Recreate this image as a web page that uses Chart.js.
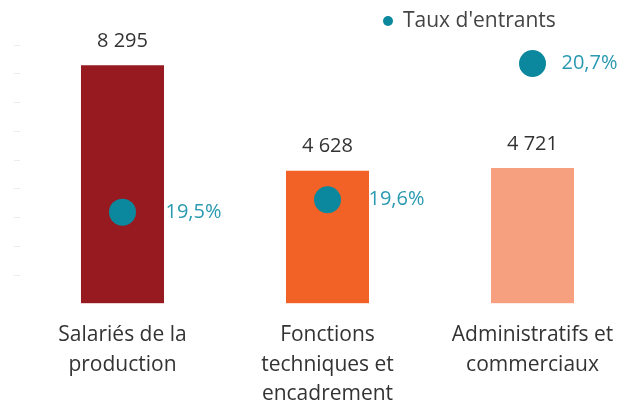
<!DOCTYPE html>
<html lang="fr">
<head>
<meta charset="utf-8">
<script src="https://cdn.jsdelivr.net/npm/chart.js@4/dist/chart.umd.min.js"></script>
<style>
  body { margin: 0; background: #fff; }
  #wrap { width: 636px; height: 402px; position: relative; }
</style>
</head>
<body>
<div id="wrap"><canvas id="entrants"></canvas></div>

<script>
    const categories = [
        ["Salariés de la", "production"],
        ["Fonctions", "techniques et", "encadrement"],
        ["Administratifs et", "commerciaux"]
    ];
    const effectifs = [8295, 4628, 4721];
    const tauxEntrants = [19.5, 19.6, 20.7];
    const barColors = ["#961a1f", "#f26125", "#f7a07f"];

    const fmtNombre = v => String(v).replace(/\B(?=(\d{3})+(?!\d))/g, " ");
    const fmtTaux = v => v.toFixed(1).replace(".", ",") + "%";

    // value labels above the bars and to the right of the dots, plus the legend
    const annotations = {
        id: "annotations",
        afterDatasetsDraw(chart, args, opts) {
            const ctx = chart.ctx;
            ctx.save();
            ctx.textBaseline = "middle";

            ctx.font = "20px 'Open Sans'";
            ctx.fillStyle = "#333";
            ctx.textAlign = "center";
            chart.getDatasetMeta(0).data.forEach((bar, i) => {
                ctx.fillText(fmtNombre(effectifs[i]), bar.x, bar.y - 24);
            });

            ctx.fillStyle = "#2a9ab0";
            ctx.textAlign = "left";
            chart.getDatasetMeta(1).data.forEach((pt, i) => {
                ctx.fillText(fmtTaux(tauxEntrants[i]), pt.x + opts.offsets[i], pt.y);
            });

            // legend
            const ds = chart.data.datasets[1];
            ctx.fillStyle = ds.backgroundColor;
            ctx.beginPath();
            ctx.arc(opts.legendX, opts.legendY, 5, 0, Math.PI * 2);
            ctx.fill();
            ctx.font = "21px 'Open Sans'";
            ctx.fillStyle = "#444";
            ctx.fillText(ds.label, opts.legendX + 15, opts.legendY);
            ctx.restore();
        }
    };

    new Chart("entrants", {
        data: {
            labels: categories,
            datasets: [
                {
                    type: "bar",
                    label: "Effectifs",
                    data: effectifs,
                    backgroundColor: barColors,
                    categoryPercentage: 1,
                    barPercentage: 0.405,
                    yAxisID: "y",
                    order: 2
                },
                {
                    type: "line",
                    label: "Taux d'entrants",
                    data: tauxEntrants,
                    showLine: false,
                    backgroundColor: "#0b889e",
                    borderColor: "#0b889e",
                    pointRadius: 13.5,
                    pointHoverRadius: 13.5,
                    pointBorderWidth: 0,
                    yAxisID: "y2",
                    order: 1
                }
            ]
        },
        options: {
            responsive: true,
            maintainAspectRatio: false,
            animation: false,
            layout: { autoPadding: false, padding: { left: 14, right: 1, top: 45, bottom: -7 } },
            plugins: {
                legend: { display: false },
                tooltip: { enabled: false },
                annotations: { offsets: [43, 41, 29], legendX: 388, legendY: 21 }
            },
            scales: {
                x: {
                    grid: { display: false, tickLength: 17 },
                    border: { display: false },
                    ticks: {
                        color: "#333",
                        font: { family: "'Open Sans'", size: 21, lineHeight: 1.4 },
                        padding: 0,
                        maxRotation: 0,
                        autoSkip: false
                    }
                },
                y: {
                    min: 0,
                    max: 9000,
                    border: { display: false },
                    grid: {
                        drawOnChartArea: false,
                        tickLength: 6,
                        color: ctx => ctx.tick && ctx.tick.value === 0 ? "rgba(0,0,0,0)" : "#ececec"
                    },
                    ticks: { display: false, stepSize: 1000 }
                },
                y2: {
                    display: false,
                    min: 18.76,
                    max: 20.85
                }
            }
        },
        plugins: [annotations]
    });
</script>
</body>
</html>
